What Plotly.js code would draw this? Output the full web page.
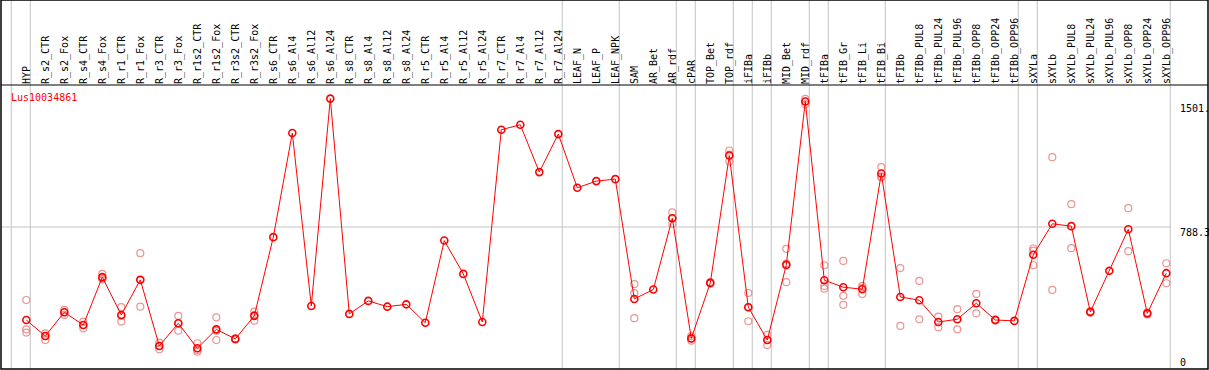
<!DOCTYPE html>
<html>
<head>
<meta charset="utf-8">
<script src="https://cdn.plot.ly/plotly-3.0.1.min.js"></script>
<style>html,body{margin:0;padding:0;background:#fff;}#chart{width:1209px;height:370px;}</style>
</head>
<body>
<div id="chart"></div>
<script>
var categories = ["HYP","R_s2_CTR","R_s2_Fox","R_s4_CTR","R_s4_Fox","R_r1_CTR","R_r1_Fox","R_r3_CTR","R_r3_Fox","R_r1s2_CTR","R_r1s2_Fox","R_r3s2_CTR","R_r3s2_Fox","R_s6_CTR","R_s6_Al4","R_s6_Al12","R_s6_Al24","R_s8_CTR","R_s8_Al4","R_s8_Al12","R_s8_Al24","R_r5_CTR","R_r5_Al4","R_r5_Al12","R_r5_Al24","R_r7_CTR","R_r7_Al4","R_r7_Al12","R_r7_Al24","LEAF_N","LEAF_P","LEAF_NPK","SAM","AR_Bet","AR_rdf","cPAR","TOP_Bet","TOP_rdf","iFIBa","iFIBb","MID_Bet","MID_rdf","tFIBa","tFIB_Gr","tFIB_Li","tFIB_Bi","tFIBb","tFIBb_PUL8","tFIBb_PUL24","tFIBb_PUL96","tFIBb_OPP8","tFIBb_OPP24","tFIBb_OPP96","sXYLa","sXYLb","sXYLb_PUL8","sXYLb_PUL24","sXYLb_PUL96","sXYLb_OPP8","sXYLb_OPP24","sXYLb_OPP96"];

var meanValues = [272,183,315,244,510,300,495,128,254,115,220,167,295,732,1310,350,1501,306,378,346,359,257,713,528,261,1328,1356,1093,1304,1006,1043,1054,389,441,837,170,478,1185,343,161,578,1485,493,454,443,1085,400,382,261,276,365,272,267,634,806,793,317,545,776,309,532];

var rep1 = [383,198,328,263,528,343,643,146,295,143,287,170,318,null,null,null,null,null,null,null,null,null,null,null,null,null,null,null,null,null,null,null,471,null,869,183,483,1213,422,189,667,1500,576,600,461,1121,560,489,291,332,417,275,null,669,1176,915,320,null,893,313,587];
var rep2 = [220,161,300,226,504,263,346,109,213,96,161,164,268,null,null,null,null,null,null,null,null,null,null,null,null,null,null,null,null,null,null,null,421,null,806,157,474,1152,265,133,482,1470,461,406,417,1069,239,276,232,220,309,269,null,576,439,671,312,null,654,303,476];
var rep3 = [202,183,315,244,498,295,495,128,254,106,212,167,299,null,null,null,null,null,null,null,null,null,null,null,null,null,null,null,null,null,null,null,282,null,837,170,null,1190,343,161,585,null,446,356,451,1065,null,null,null,null,null,null,null,657,null,null,null,null,null,null,null];

var sepAfter = [-1,0,28,31,34,35,37,38,39,41,42,45,52,53,60];
var yTickVals = [0,788.3,1501];
var yTickText = ["0","788.3","1501."];
var geneName = "Lus10034861";
var yMax = 1576.6;

var repX = [], repY = [];
[rep1, rep2, rep3].forEach(function (r) {
  r.forEach(function (v, i) { if (v !== null) { repX.push(categories[i]); repY.push(v); } });
});

var xMin = -1.3316, xMax = 62.195;
var headerTop = 1 + 85 / 284;

var shapes = [];
sepAfter.forEach(function (s) {
  shapes.push({type:'line', xref:'x', yref:'paper', x0:s+0.21, x1:s+0.21, y0:0, y1:headerTop,
    line:{color:'#c4c4c4', width:1}, layer:'below'});
});
shapes.push({type:'line', xref:'x', yref:'y', x0:xMin, x1:sepAfter[sepAfter.length-1]+0.21, y0:yTickVals[1], y1:yTickVals[1],
  line:{color:'#c4c4c4', width:1}, layer:'below'});
shapes.push({type:'rect', xref:'paper', yref:'paper', x0:0, x1:1, y0:0, y1:headerTop,
  line:{color:'#000', width:1.5}, fillcolor:'rgba(0,0,0,0)'});
shapes.push({type:'line', xref:'paper', yref:'paper', x0:0, x1:1, y0:1, y1:1,
  line:{color:'#000', width:1}});

var mono = 'DejaVu Sans Mono, monospace';

var traces = [
  {x: repX, y: repY, type:'scatter', mode:'markers',
   marker:{symbol:'circle-open', size:7, color:'rgba(232,120,120,0.8)', line:{width:1.2}},
   hoverinfo:'skip'},
  {x: categories, y: meanValues, type:'scatter', mode:'lines+markers',
   line:{color:'#ff0000', width:1},
   marker:{symbol:'circle-open', size:7, color:'#ff0000', line:{width:1.6}},
   hoverinfo:'skip'}
];

// vertical nudges of the right-hand value labels (pixels), as placed in the reference
var labelNudge = [7, -5, -10];
var annotations = yTickVals.map(function (v, i) {
  return {text:yTickText[i], xref:'paper', yref:'y', x:(1178-1)/1207, y:v,
    xanchor:'left', yanchor:'middle', yshift:labelNudge[i], showarrow:false,
    font:{family:mono, size:10, color:'#000'}};
});
annotations.push({text:geneName, xref:'paper', yref:'paper', x:(9-1)/1207, y:(369-97.5)/284,
  xanchor:'left', yanchor:'middle', showarrow:false,
  font:{family:mono, size:10, color:'#ff0000'}});

var layout = {
  width:1209, height:370,
  margin:{l:1, r:1, t:85, b:1, pad:0},
  paper_bgcolor:'#fff', plot_bgcolor:'#fff',
  showlegend:false, hovermode:false,
  xaxis:{type:'category', categoryorder:'array', categoryarray:categories,
    range:[xMin, xMax], side:'top', tickangle:-90,
    tickmode:'linear', dtick:1, ticks:'', showgrid:false, zeroline:false, showline:false,
    tickfont:{family:mono, size:10, color:'#000'}, automargin:false},
  yaxis:{range:[0, yMax], showticklabels:false, ticks:'',
    showgrid:false, zeroline:false, showline:false, automargin:false},
  shapes: shapes,
  annotations: annotations
};

Plotly.newPlot('chart', traces, layout, {displayModeBar:false, staticPlot:true});
</script>
</body>
</html>
